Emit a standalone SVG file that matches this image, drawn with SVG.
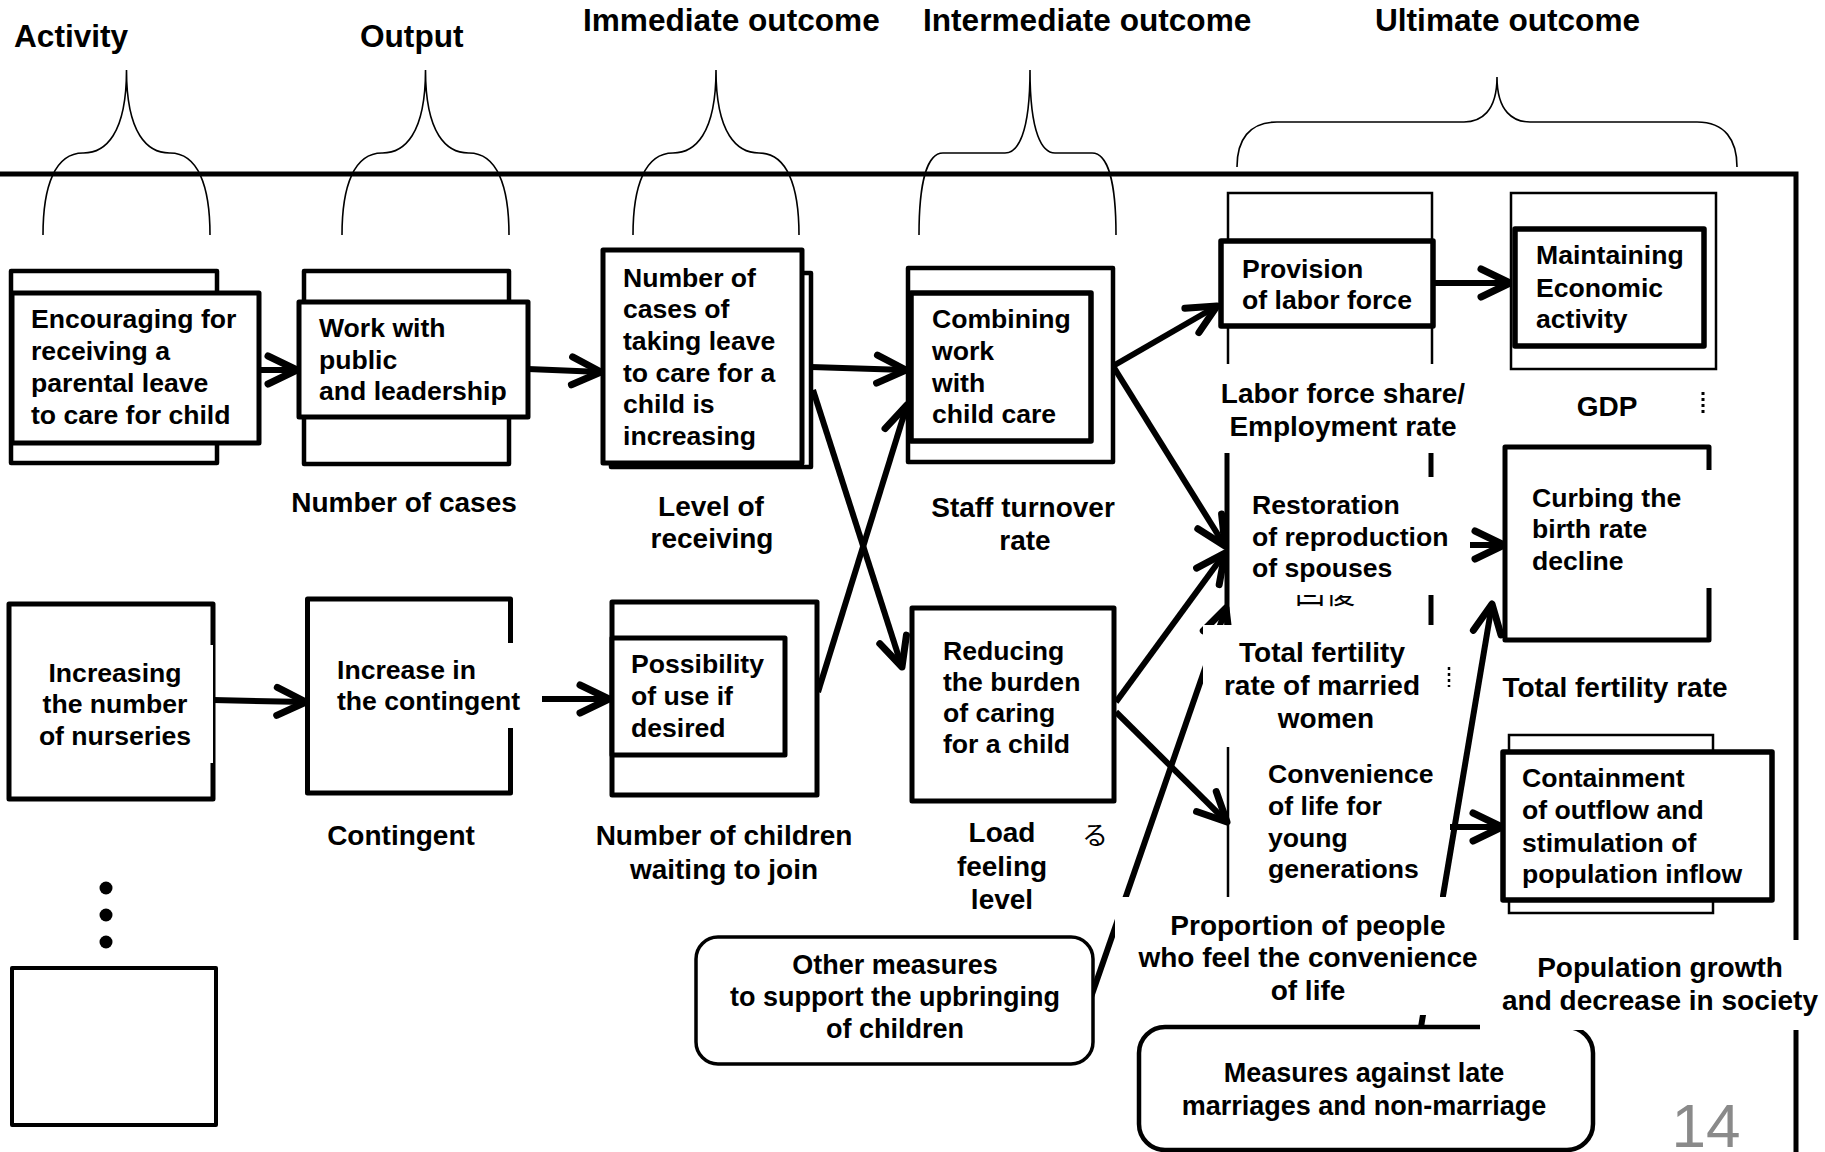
<svg xmlns="http://www.w3.org/2000/svg" width="1825" height="1152" viewBox="0 0 1825 1152">
<defs>
<style>
.t{font-family:"Liberation Sans",Arial,sans-serif;font-weight:bold;fill:#000}
.n{font-size:26.6px}
.h{font-size:31.6px}
.l{font-size:28px}
.m{font-size:27px}
.c{text-anchor:middle}
.box{fill:#fff;stroke:#000;stroke-width:5;stroke-linejoin:round}
.bk{fill:#fff;stroke:#000;stroke-width:4.5;stroke-linejoin:round}
.thin{fill:#fff;stroke:#000;stroke-width:2.5}
.brace{fill:none;stroke:#000;stroke-width:1.6}
.conn{stroke:#000;stroke-width:6;fill:none;marker-end:url(#ah)}
.mask{fill:#fff}
.jp{font-family:"Noto Sans CJK JP",sans-serif;font-size:30px;fill:#000}
</style>
<marker id="ah" viewBox="-40 -20 48 40" refX="0" refY="0" markerWidth="48" markerHeight="40" markerUnits="userSpaceOnUse" orient="auto">
<path d="M-29 -14 L0 0 L-29 14" fill="none" stroke="#000" stroke-width="7" stroke-linecap="round" stroke-linejoin="round"/>
</marker>
</defs>
<rect width="1825" height="1152" fill="#fff"/>

<g id="headers">
<text class="t h" x="14" y="47">Activity</text>
<text class="t h" x="360" y="47">Output</text>
<text class="t h" x="583" y="31">Immediate outcome</text>
<text class="t h" x="923" y="31">Intermediate outcome</text>
<text class="t h" x="1375" y="31">Ultimate outcome</text>
</g>

<g id="braces">
<path class="brace" d="M43 235 C43 185.8 55 153 83 153 L83.5 153 C105 153 126.5 134.7 126.5 70 C126.5 134.7 148 153 169.5 153 L170 153 C198 153 210 185.8 210 235"/>
<path class="brace" d="M342 235 C342 185.8 354 153 382 153 L382.5 153 C404 153 425.5 134.7 425.5 70 C425.5 134.7 447 153 468.5 153 L469 153 C497 153 509 185.8 509 235"/>
<path class="brace" d="M633 235 C633 185.8 645 153 673 153 C694.5 153 716 134.7 716 70 C716 134.7 737.5 153 759 153 C787 153 799 185.8 799 235"/>
<path class="brace" d="M919 235 C919 185.8 926.2 153 943 153 L1005 153 C1017.5 153 1030 134.7 1030 70 C1030 134.7 1042.5 153 1055 153 L1092 153 C1108.8 153 1116 185.8 1116 235"/>
<path class="brace" d="M1237 167 C1237 140 1249 122 1277 122 L1464 122 C1480.5 122 1497 112 1497 77 C1497 112 1513.5 122 1530 122 L1697 122 C1725 122 1737 140 1737 167"/>
</g>

<g id="frame" fill="none" stroke="#000" stroke-width="5">
<path d="M0 174 L1796 174 L1796 1152"/>
</g>

<g id="connectors">
<path class="conn" d="M259 370 L297 370"/>
<path class="conn" d="M528 369 L601 372"/>
<path class="conn" d="M811 367 L906 370"/>
<path class="conn" d="M813 390 L902 667"/>
<path class="conn" d="M818 692 L907 405"/>
<path class="conn" d="M1113 366 L1217 306"/>
<path class="conn" d="M1113 366 L1225 546"/>
<path class="conn" d="M1116 702 L1225 553"/>
<path class="conn" d="M1116 712 L1227 822"/>
<path class="conn" d="M1090 1000 L1226 608"/>
<path class="conn" d="M1433 283 L1510 283"/>
<path class="conn" d="M1470 545 L1504 545"/>
<path class="conn" d="M1421 1027 L1492 604"/>
<path class="conn" d="M1450 827 L1502 827"/>
<path class="conn" d="M213 700 L306 702"/>
<path class="conn" d="M511 699 L609 699"/>
</g>

<g id="n-encouraging">
<rect class="bk" x="11" y="271" width="206" height="192"/>
<rect class="box" x="12" y="293" width="247" height="150"/>
<text class="t n" x="31" y="328">Encouraging for</text>
<text class="t n" x="31" y="360">receiving a</text>
<text class="t n" x="31" y="392">parental leave</text>
<text class="t n" x="31" y="424">to care for child</text>
</g>

<g id="n-work">
<rect class="bk" x="304" y="271" width="205" height="193"/>
<rect class="box" x="299" y="302" width="229" height="115"/>
<text class="t n" x="319" y="337">Work with</text>
<text class="t n" x="319" y="369">public</text>
<text class="t n" x="319" y="400">and leadership</text>
</g>

<g id="n-numcases">
<rect class="bk" x="611" y="273" width="200" height="194"/>
<rect class="box" x="603" y="250" width="199" height="213"/>
<text class="t n" x="623" y="287">Number of</text>
<text class="t n" x="623" y="318">cases of</text>
<text class="t n" x="623" y="350">taking leave</text>
<text class="t n" x="623" y="382">to care for a</text>
<text class="t n" x="623" y="413">child is</text>
<text class="t n" x="623" y="445">increasing</text>
</g>

<g id="n-combining">
<rect class="bk" x="908" y="268" width="205" height="194"/>
<rect class="box" x="911" y="293" width="180" height="148" style="stroke-width:5.5"/>
<text class="t n" x="932" y="328">Combining</text>
<text class="t n" x="932" y="360">work</text>
<text class="t n" x="932" y="392">with</text>
<text class="t n" x="932" y="423">child care</text>
</g>

<g id="n-provision">
<rect class="thin" x="1228" y="193" width="204" height="230"/>
<rect class="box" x="1221" y="241" width="212" height="85" style="stroke-width:5.5"/>
<text class="t n" x="1242" y="278">Provision</text>
<text class="t n" x="1242" y="309">of labor force</text>
</g>

<g id="n-maintaining">
<rect class="thin" x="1511" y="193" width="205" height="176"/>
<rect class="box" x="1515" y="229" width="189" height="117" style="stroke-width:5.5"/>
<text class="t n" x="1536" y="264">Maintaining</text>
<text class="t n" x="1536" y="297">Economic</text>
<text class="t n" x="1536" y="328">activity</text>
</g>

<g id="n-nurseries">
<rect class="box" x="9" y="604" width="204" height="195"/>
<rect class="mask" x="40" y="645" width="173" height="118"/>
<text class="t n c" x="115" y="682">Increasing</text>
<text class="t n c" x="115" y="713">the number</text>
<text class="t n c" x="115" y="745">of nurseries</text>
</g>

<g id="n-contingent">
<rect class="box" x="307.5" y="599" width="203" height="194"/>
<rect class="mask" x="330" y="643" width="212" height="85"/>
<text class="t n" x="337" y="679">Increase in</text>
<text class="t n" x="337" y="710">the contingent</text>
</g>

<g id="n-possibility">
<rect class="box" x="612" y="602" width="205" height="193"/>
<rect class="box" x="612" y="638" width="173" height="117"/>
<text class="t n" x="631" y="673">Possibility</text>
<text class="t n" x="631" y="705">of use if</text>
<text class="t n" x="631" y="737">desired</text>
</g>

<g id="n-reducing">
<rect class="box" x="912" y="608" width="202" height="193"/>
<text class="t n" x="943" y="660">Reducing</text>
<text class="t n" x="943" y="691">the burden</text>
<text class="t n" x="943" y="722">of caring</text>
<text class="t n" x="943" y="753">for a child</text>
</g>

<g id="n-restoration">
<rect class="box" x="1227" y="440" width="204" height="200" style="fill:none"/>
<text class="jp" x="1295" y="603">回復</text>
<rect class="mask" x="1236" y="477" width="234" height="118"/>
<text class="t n" x="1252" y="514">Restoration</text>
<text class="t n" x="1252" y="546">of reproduction</text>
<text class="t n" x="1252" y="577">of spouses</text>
</g>

<g id="n-curbing">
<rect class="box" x="1505" y="447" width="204" height="193"/>
<rect class="mask" x="1520" y="470" width="192" height="118"/>
<text class="t n" x="1532" y="507">Curbing the</text>
<text class="t n" x="1532" y="538">birth rate</text>
<text class="t n" x="1532" y="570">decline</text>
</g>

<g id="n-convenience">
<rect x="1228" y="735" width="208" height="170" fill="none" stroke="#000" stroke-width="2.5"/>
<rect class="mask" x="1231" y="733" width="209" height="174"/>
<text class="t n" x="1268" y="783">Convenience</text>
<text class="t n" x="1268" y="815">of life for</text>
<text class="t n" x="1268" y="847">young</text>
<text class="t n" x="1268" y="878">generations</text>
</g>

<g id="n-containment">
<rect class="thin" x="1509" y="735" width="204" height="178"/>
<rect class="box" x="1503" y="752" width="269" height="148" style="stroke-width:5.5"/>
<text class="t n" x="1522" y="787">Containment</text>
<text class="t n" x="1522" y="819">of outflow and</text>
<text class="t n" x="1522" y="852">stimulation of</text>
<text class="t n" x="1522" y="883">population inflow</text>
</g>

<g id="n-other">
<rect x="696" y="937" width="397" height="127" rx="22" ry="22" fill="#fff" stroke="#000" stroke-width="3.5"/>
<text class="t m c" x="895" y="974">Other measures</text>
<text class="t m c" x="895" y="1006">to support the upbringing</text>
<text class="t m c" x="895" y="1038">of children</text>
</g>

<g id="n-measures">
<rect x="1139" y="1027" width="454" height="123" rx="26" ry="26" fill="#fff" stroke="#000" stroke-width="4.5"/>
<text class="t m c" x="1364" y="1082">Measures against late</text>
<text class="t m c" x="1364" y="1115">marriages and non-marriage</text>
</g>

<g id="n-blank">
<circle cx="106" cy="888" r="6.5" fill="#000"/>
<circle cx="106" cy="915" r="6.5" fill="#000"/>
<circle cx="106" cy="942" r="6.5" fill="#000"/>
<rect x="12" y="968" width="204" height="157" fill="#fff" stroke="#000" stroke-width="4" stroke-linejoin="round"/>
</g>

<g id="labels">
<text class="t l c" x="404" y="512">Number of cases</text>
<text class="t l c" x="711" y="516">Level of</text>
<text class="t l c" x="712" y="548">receiving</text>
<text class="t l c" x="1023" y="517">Staff turnover</text>
<text class="t l c" x="1025" y="550">rate</text>
<text class="t l c" x="401" y="845">Contingent</text>
<text class="t l c" x="724" y="845">Number of children</text>
<text class="t l c" x="724" y="879">waiting to join</text>
<text class="t l c" x="1002" y="842">Load</text>
<text class="t l c" x="1002" y="876">feeling</text>
<text class="t l c" x="1002" y="909">level</text>
<text class="jp" x="1082" y="845" style="font-size:26px">る</text>

<rect class="mask" x="1215" y="364" width="250" height="89"/>
<text class="t l c" x="1343" y="403">Labor force share/</text>
<text class="t l c" x="1343" y="436">Employment rate</text>

<text class="t l c" x="1607" y="416">GDP</text>
<path d="M1703 392 L1703 416" stroke="#000" stroke-width="3" stroke-dasharray="3 3"/>

<rect class="mask" x="1203" y="625" width="242" height="122"/>
<text class="t l c" x="1322" y="662">Total fertility</text>
<text class="t l c" x="1322" y="695">rate of married</text>
<text class="t l c" x="1326" y="728">women</text>
<path d="M1449 667 L1449 687" stroke="#000" stroke-width="2.5" stroke-dasharray="3 3"/>

<text class="t l c" x="1615" y="697">Total fertility rate</text>

<rect class="mask" x="1115" y="897" width="365" height="118"/>
<text class="t l c" x="1308" y="935">Proportion of people</text>
<text class="t l c" x="1308" y="967">who feel the convenience</text>
<text class="t l c" x="1308" y="1000">of life</text>

<rect class="mask" x="1480" y="940" width="345" height="90"/>
<text class="t l c" x="1660" y="977">Population growth</text>
<text class="t l c" x="1660" y="1010">and decrease in society</text>

<text x="1706" y="1147" text-anchor="middle" style="font-family:'Liberation Sans',Arial,sans-serif;font-size:62px;fill:#8a8a8a">14</text>
</g>
</svg>
